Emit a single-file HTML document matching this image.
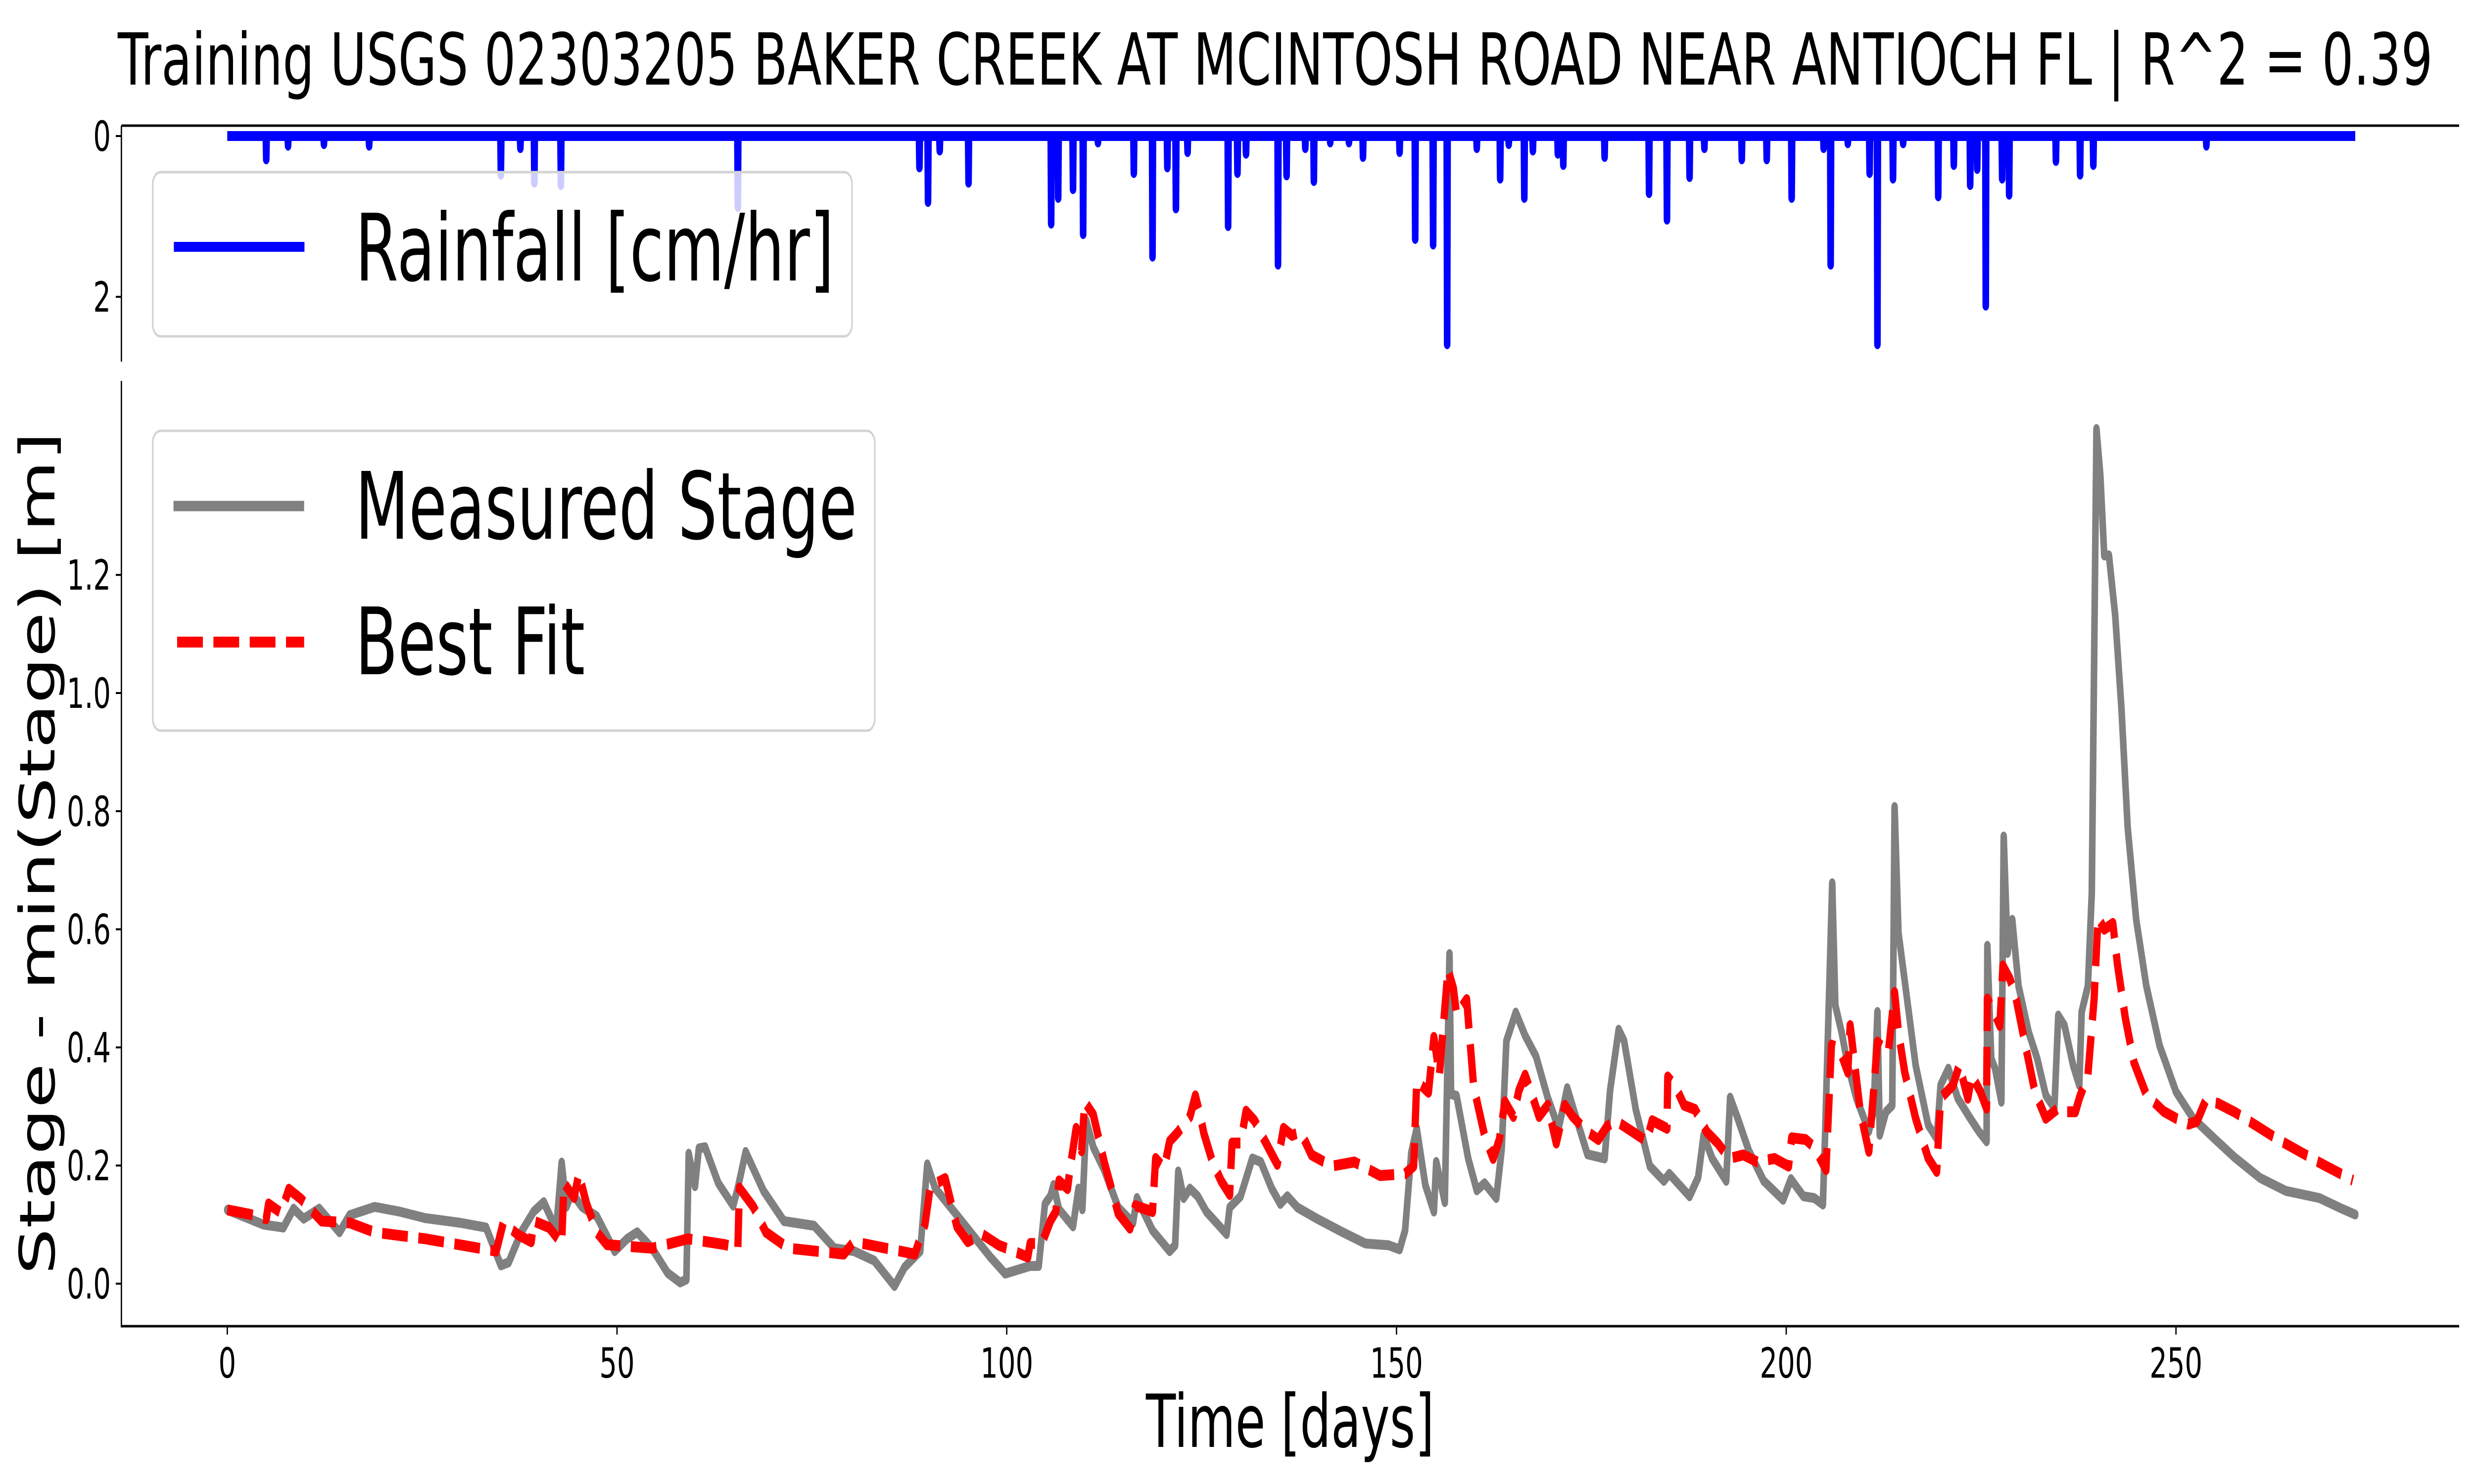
<!DOCTYPE html>
<html><head><meta charset="utf-8"><style>
html,body{margin:0;padding:0;background:#fff;width:100%;height:100%;overflow:hidden;}
svg{display:block;width:100vw;height:100vh;font-family:"DejaVu Sans","Liberation Sans",sans-serif;}
</style></head><body>
<svg id="chart" xmlns="http://www.w3.org/2000/svg" viewBox="0 0 7500 3000" preserveAspectRatio="none">
<rect width="7500" height="3000" fill="#fff"/>
<text x="357" y="171" font-size="145" textLength="7018" lengthAdjust="spacingAndGlyphs">Training USGS 02303205 BAKER CREEK AT MCINTOSH ROAD NEAR ANTIOCH FL | R^2 = 0.39</text>
<g id="rainG"></g>
<g id="stageG"></g>
<text x="3911" y="2925" font-size="148" text-anchor="middle">Time [days]</text>
<text transform="translate(165,1725) rotate(-90)" font-size="148" text-anchor="middle">Stage - min(Stage) [m]</text>
</svg>
<script>
const rainDays=[5.0,7.8,12.4,18.2,35.1,37.6,39.4,42.8,65.5,88.8,89.9,91.4,95.1,105.7,106.6,108.5,109.8,111.7,116.3,118.7,120.6,121.7,123.2,128.4,129.6,130.7,134.8,135.9,138.3,139.4,141.5,143.9,145.7,150.4,152.4,154.7,156.5,160.3,163.3,164.4,166.4,167.5,170.7,171.4,176.7,182.4,184.7,187.6,189.5,194.3,197.5,200.7,204.8,205.7,207.9,210.7,211.7,213.7,215.0,219.5,221.5,223.6,224.5,225.6,227.7,228.6,234.6,237.7,239.4,253.9];
const rainValues=[0.29,0.12,0.1,0.12,0.48,0.15,0.58,0.61,0.88,0.39,0.82,0.18,0.58,1.09,0.77,0.66,1.22,0.08,0.46,1.5,0.39,0.9,0.2,1.12,0.46,0.22,1.6,0.49,0.15,0.56,0.08,0.08,0.26,0.2,1.28,1.35,2.59,0.15,0.53,0.1,0.77,0.18,0.22,0.36,0.26,0.71,1.04,0.51,0.15,0.29,0.29,0.77,0.15,1.6,0.09,0.46,2.59,0.53,0.09,0.75,0.36,0.61,0.41,2.11,0.53,0.73,0.31,0.48,0.36,0.12];
const rainStart=0, rainEnd=273;
const measDays=[0,4.65,7.2,8.5,9.8,11.8,14.4,15.7,18.9,22.1,25.4,29.9,33.2,35.1,36.1,37.7,39.3,40.6,42.2,42.9,43.5,44.2,45.5,47.4,49.7,51.3,52.6,54.5,56.5,58.1,58.9,59.2,60.0,60.5,61.3,63.0,64.9,65.5,66.5,68.8,71.4,75.3,77.9,80.4,83.0,85.6,86.9,88.9,89.8,90.8,93.6,97.9,99.8,103.0,104.1,104.9,105.6,106.0,106.7,108.5,109.2,109.7,110.2,111.1,112.5,114.3,116.2,116.7,118.7,120.9,121.6,122.0,122.7,123.5,124.5,125.6,128.2,128.6,130.0,131.5,132.6,134.0,135.1,136.0,137.3,139.8,143.1,146.0,149.0,150.4,151.1,151.9,152.6,153.7,154.8,155.1,156.2,156.8,157.0,157.7,159.2,160.3,161.3,162.8,163.5,164.1,165.3,166.5,167.9,169.4,170.8,171.9,173.0,174.5,176.7,177.4,178.5,179.2,180.7,182.5,184.3,185.0,187.6,188.7,189.4,190.5,192.3,192.8,193.8,195.2,197.1,199.6,200.6,202.2,203.6,204.7,205.0,205.9,206.3,207.1,207.9,209.0,210.6,211.2,211.7,212.0,212.8,213.6,213.9,214.4,215.5,216.6,218.2,219.3,219.8,220.8,222.0,223.6,224.7,225.7,225.8,226.3,226.8,227.6,227.9,228.4,229.0,229.8,231.1,232.2,233.3,234.4,234.9,235.7,236.8,237.6,237.9,238.7,239.2,239.8,240.3,240.8,241.4,242.2,243.0,243.8,244.9,246.2,247.9,250.0,252.2,254.9,257.6,260.8,264.1,268.4,271.1,273.0];
const measValues=[0.125,0.10,0.095,0.127,0.11,0.127,0.087,0.116,0.13,0.122,0.111,0.103,0.095,0.031,0.036,0.087,0.122,0.138,0.092,0.205,0.13,0.154,0.13,0.114,0.055,0.076,0.087,0.06,0.018,0.002,0.007,0.22,0.165,0.229,0.231,0.17,0.132,0.162,0.223,0.157,0.106,0.098,0.06,0.055,0.039,-0.004,0.028,0.055,0.202,0.162,0.116,0.045,0.017,0.03,0.03,0.135,0.148,0.167,0.126,0.097,0.161,0.126,0.276,0.231,0.193,0.129,0.103,0.145,0.09,0.055,0.065,0.19,0.145,0.161,0.148,0.122,0.084,0.129,0.148,0.212,0.206,0.161,0.135,0.148,0.129,0.11,0.087,0.068,0.065,0.058,0.09,0.222,0.263,0.167,0.122,0.206,0.138,0.558,0.321,0.318,0.212,0.158,0.17,0.145,0.228,0.411,0.459,0.42,0.385,0.315,0.263,0.331,0.283,0.219,0.212,0.327,0.43,0.411,0.295,0.199,0.174,0.186,0.148,0.18,0.251,0.212,0.174,0.315,0.279,0.225,0.174,0.142,0.177,0.148,0.145,0.134,0.258,0.678,0.471,0.426,0.37,0.314,0.258,0.291,0.46,0.252,0.291,0.302,0.807,0.594,0.482,0.37,0.269,0.246,0.336,0.364,0.314,0.28,0.258,0.241,0.572,0.381,0.364,0.308,0.757,0.56,0.616,0.504,0.426,0.381,0.319,0.297,0.454,0.437,0.37,0.336,0.46,0.504,0.661,1.447,1.368,1.233,1.233,1.132,0.975,0.773,0.616,0.504,0.403,0.325,0.28,0.246,0.213,0.179,0.157,0.145,0.128,0.117];
const fitDays=[0,2.7,5.0,5.3,6.9,7.9,9.5,12.1,15.7,18.9,25.4,34.5,35.4,37.4,39.0,39.3,41.3,42.9,43.2,44.5,45.1,46.1,47.4,48.7,54.5,59.1,63.9,65.5,65.7,67.5,69.1,72.0,79.1,80.4,88.2,89.5,90.2,92.1,93.6,95.0,96.8,99.0,100.9,102.7,103.0,104.5,105.6,106.3,106.7,107.8,108.1,108.9,109.6,110.0,111.1,112.5,114.3,115.8,116.5,118.7,119.1,120.2,120.9,122.0,123.5,124.2,124.8,125.3,126.4,127.5,128.6,128.9,130.0,130.7,131.8,132.9,134.7,135.5,136.6,137.7,139.1,141.7,144.6,147.9,151.1,152.2,152.6,154.1,154.8,155.5,156.6,157.3,157.7,159.0,159.9,161.3,162.4,163.2,163.9,165.0,165.7,166.5,167.5,168.3,169.4,170.5,171.6,172.6,174.5,175.9,177.0,178.1,180.3,182.1,182.8,184.7,184.8,185.8,186.9,188.3,189.8,191.2,192.7,194.5,196.3,198.5,200.3,200.7,202.5,203.6,205.1,205.8,206.8,207.9,208.2,208.7,209.5,210.6,211.7,213.1,213.9,214.4,215.2,216.6,218.2,219.3,219.8,221.4,222.2,223.3,223.8,224.9,225.7,225.8,226.5,227.4,227.8,228.7,229.5,230.6,231.9,233.3,234.9,236.0,237.1,237.6,238.7,239.5,240.0,240.8,241.9,242.5,243.5,244.6,246.2,248.4,250.0,251.6,252.7,253.8,255.4,257.6,263.0,268.4,272.7];
const fitValues=[0.125,0.118,0.11,0.135,0.12,0.16,0.143,0.106,0.103,0.087,0.076,0.055,0.103,0.082,0.071,0.106,0.095,0.068,0.17,0.146,0.186,0.135,0.087,0.066,0.06,0.076,0.066,0.06,0.162,0.13,0.087,0.06,0.05,0.071,0.05,0.1,0.165,0.178,0.097,0.071,0.084,0.065,0.055,0.045,0.068,0.068,0.106,0.122,0.174,0.161,0.193,0.263,0.225,0.308,0.286,0.206,0.119,0.094,0.132,0.122,0.212,0.196,0.241,0.257,0.283,0.318,0.286,0.254,0.206,0.174,0.151,0.238,0.238,0.292,0.276,0.247,0.202,0.263,0.251,0.257,0.218,0.199,0.206,0.183,0.186,0.199,0.343,0.324,0.417,0.353,0.532,0.5,0.456,0.481,0.334,0.251,0.212,0.244,0.308,0.283,0.327,0.353,0.315,0.283,0.302,0.238,0.302,0.283,0.257,0.244,0.266,0.276,0.257,0.241,0.276,0.263,0.35,0.334,0.302,0.295,0.257,0.238,0.212,0.218,0.206,0.212,0.199,0.247,0.244,0.231,0.193,0.404,0.398,0.358,0.437,0.381,0.291,0.224,0.409,0.392,0.493,0.426,0.358,0.28,0.213,0.19,0.314,0.336,0.37,0.314,0.353,0.325,0.297,0.482,0.465,0.437,0.538,0.516,0.482,0.409,0.325,0.28,0.297,0.291,0.291,0.314,0.353,0.482,0.62,0.6,0.61,0.54,0.45,0.375,0.32,0.292,0.28,0.27,0.275,0.31,0.305,0.29,0.245,0.205,0.175];
const xTicks=[0,50,100,150,200,250];
const yTicks=[0.0,0.2,0.4,0.6,0.8,1.0,1.2];
const yTickLabels=["0.0","0.2","0.4","0.6","0.8","1.0","1.2"];
const rainTicks=[0,2];

const NS="http://www.w3.org/2000/svg";
const X0=368,X1=7455;
function xScale(d){return 689+23.63*d;}
function yStage(v){return 2595-1194*v;}
function yRain(v){return 275+162.5*v;}
function mk(tag,attrs,parent){const e=document.createElementNS(NS,tag);for(const k in attrs)e.setAttribute(k,attrs[k]);parent.appendChild(e);return e;}
const rainG=document.getElementById('rainG');
const stageG=document.getElementById('stageG');

let rp=[[rainStart,0]];
rainDays.forEach((d,i)=>{rp.push([d-0.06,0]);rp.push([d,rainValues[i]]);rp.push([d+0.06,0]);});
rp.push([rainEnd,0]);
const rl=mk('polyline',{points:rp.map(p=>xScale(p[0]).toFixed(1)+','+yRain(p[1]).toFixed(1)).join(' '),fill:'none',stroke:'#0000ff','stroke-width':20,'stroke-linejoin':'round','stroke-linecap':'butt'},rainG);


const rs1=mk('line',{x1:X0,y1:254,x2:X1,y2:254,stroke:'#000','stroke-width':5},rainG);


const rs2=mk('line',{x1:X0,y1:254,x2:X0,y2:731,stroke:'#000','stroke-width':4},rainG);


rainTicks.forEach(t=>{
 const y=yRain(t);
 const tk=mk('line',{x1:X0-17,y1:y,x2:X0,y2:y,stroke:'#000','stroke-width':4},rainG);
 
 
 const tl=mk('text',{x:X0-32,y:y+30,'font-size':84,'text-anchor':'end'},rainG);
 tl.textContent=String(t);
 
 
});
const rlb=mk('rect',{x:463,y:348,width:2120,height:332,rx:24,fill:'#fff','fill-opacity':0.8,stroke:'#d3d3d3','stroke-width':5},rainG);


const rll=mk('line',{x1:527,y1:499,x2:923,y2:499,stroke:'#0000ff','stroke-width':20},rainG);


const rlt=mk('text',{x:1077,y:567,'font-size':188},rainG);
rlt.textContent='Rainfall [cm/hr]';



const ml=mk('polyline',{points:measDays.map((d,i)=>xScale(d).toFixed(1)+','+yStage(measValues[i]).toFixed(1)).join(' '),fill:'none',stroke:'#808080','stroke-width':20,'stroke-linejoin':'round','stroke-linecap':'round'},stageG);


const fl=mk('polyline',{points:fitDays.map((d,i)=>xScale(d).toFixed(1)+','+yStage(fitValues[i]).toFixed(1)).join(' '),fill:'none',stroke:'#ff0000','stroke-width':22,'stroke-dasharray':'78 32','stroke-linejoin':'round'},stageG);


const ss1=mk('line',{x1:X0,y1:770,x2:X0,y2:2681,stroke:'#000','stroke-width':4},stageG);


const ss2=mk('line',{x1:X0-2,y1:2681,x2:X1,y2:2681,stroke:'#000','stroke-width':5},stageG);


xTicks.forEach(t=>{
 const x=xScale(t);
 const tk=mk('line',{x1:x,y1:2681,x2:x,y2:2698,stroke:'#000','stroke-width':4},stageG);
 
 
 const tl=mk('text',{x:x,y:2785,'font-size':84,'text-anchor':'middle'},stageG);
 tl.textContent=String(t);
 
 
});
yTicks.forEach((t,i)=>{
 const y=yStage(t);
 const tk=mk('line',{x1:X0-17,y1:y,x2:X0,y2:y,stroke:'#000','stroke-width':4},stageG);
 
 
 const tl=mk('text',{x:X0-32,y:y+30,'font-size':84,'text-anchor':'end'},stageG);
 tl.textContent=yTickLabels[i];
 
 
});
const slb=mk('rect',{x:463,y:871,width:2189,height:606,rx:24,fill:'#fff','fill-opacity':0.8,stroke:'#d3d3d3','stroke-width':5},stageG);


const sl1=mk('line',{x1:526,y1:1023,x2:922,y2:1023,stroke:'#808080','stroke-width':21},stageG);


const st1=mk('text',{x:1077,y:1089,'font-size':188},stageG);
st1.textContent='Measured Stage';


const sl2=mk('line',{x1:537,y1:1298,x2:922,y2:1298,stroke:'#ff0000','stroke-width':22,'stroke-dasharray':'78 32'},stageG);


const st2=mk('text',{x:1077,y:1363,'font-size':188},stageG);
st2.textContent='Best Fit';


</script>
</body></html>
